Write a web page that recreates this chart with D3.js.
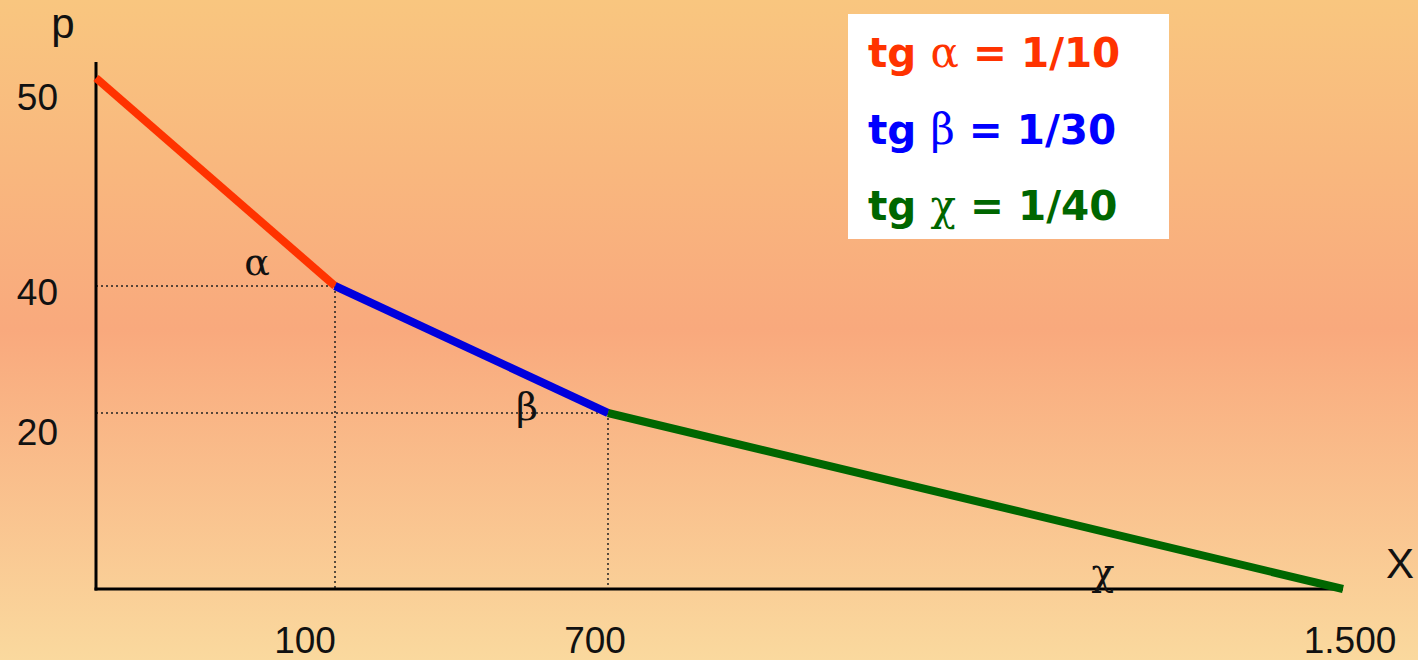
<!DOCTYPE html>
<html>
<head>
<meta charset="utf-8">
<script src="https://cdn.jsdelivr.net/npm/d3@7"></script>
<style>
  html, body { margin: 0; padding: 0; overflow: hidden; }
  svg { display: block; }
  .tick-label { font-family: "Liberation Sans", Arial, sans-serif; font-size: 37px; fill: #111; }
  .axis-title { font-family: "Liberation Sans", Arial, sans-serif; font-size: 42px; fill: #111; }
  .greek { font-family: "DejaVu Serif", serif; font-size: 38px; fill: #111; }
  .legend-text { font-family: "DejaVu Sans", Verdana, sans-serif; font-weight: bold; font-size: 40.5px; }
  .legend-text .g { font-family: "DejaVu Serif", serif; font-weight: normal; font-size: 42px; }
</style>
</head>
<body>
<svg id="chart" width="1418" height="660"></svg>
<script>
// Demand curve break points (quantity x, price p)
const quantity = [0, 100, 700, 1500];
const price    = [50, 40, 20, 0];

// One segment per pair of break points
const segColors = ['#ff3300', '#0000dd', '#006600'];
const greek     = ['α', 'β', 'χ'];
const slopes    = ['1/10', '1/30', '1/40'];
const legendColors = ['#ff3300', '#0000ff', '#006600'];

// Ticks (axes are not to scale in the original)
const xTicks      = [100, 700, 1500];
const xTickLabels = ['100', '700', '1.500'];
const yTicks      = [50, 40, 20];

const W = 1418, H = 660;
const svg = d3.select('#chart');

// ── Background gradient ─────────────────────────────────────────
const defs = svg.append('defs');
const grad = defs.append('linearGradient')
  .attr('id', 'bg').attr('x1', 0).attr('y1', 0).attr('x2', 0).attr('y2', 1);
grad.append('stop').attr('offset', '0%').attr('stop-color', '#f9c67f');
grad.append('stop').attr('offset', '50%').attr('stop-color', '#f9a97d');
grad.append('stop').attr('offset', '100%').attr('stop-color', '#fad99e');
svg.append('rect').attr('width', W).attr('height', H).attr('fill', 'url(#bg)');

// ── Piecewise scales (break points spaced like the drawing) ─────
const x = d3.scaleLinear().domain(quantity).range([96, 335, 608, 1343]);
const y = d3.scaleLinear().domain([0, 20, 40, 50]).range([589, 413, 286, 78]);

const x0 = x(0), y0 = y(0);

// ── Dotted guides ───────────────────────────────────────────────
const guides = svg.append('g')
  .attr('stroke', '#222')
  .attr('stroke-width', 1.5)
  .attr('stroke-dasharray', '2,3');

const inner = quantity.map((q, i) => ({ q, p: price[i] })).filter(d => d.q > 0 && d.p > 0);
guides.selectAll('.h').data(inner).join('line')
  .attr('x1', x0).attr('x2', d => x(d.q))
  .attr('y1', d => y(d.p)).attr('y2', d => y(d.p));
guides.selectAll('.v').data(inner).join('line')
  .attr('x1', d => x(d.q)).attr('x2', d => x(d.q))
  .attr('y1', d => y(d.p)).attr('y2', y0);

// ── Axes ────────────────────────────────────────────────────────
svg.append('line')
  .attr('x1', x0).attr('x2', x0)
  .attr('y1', y(50) - 16).attr('y2', y0 + 1.5)
  .attr('stroke', '#000').attr('stroke-width', 3);
svg.append('line')
  .attr('x1', x0 - 1.5).attr('x2', x(1500))
  .attr('y1', y0).attr('y2', y0)
  .attr('stroke', '#000').attr('stroke-width', 3);

svg.selectAll('.ytick').data(yTicks).join('text')
  .attr('class', 'tick-label')
  .attr('x', 58)
  .attr('y', d => y(d) + (d === 40 ? 19 : 32))
  .attr('text-anchor', 'end')
  .text(d => d);

svg.selectAll('.xtick').data(xTicks).join('text')
  .attr('class', 'tick-label')
  .attr('x', (d, i) => x(d) + [-30, -13, 7][i])
  .attr('y', 653)
  .attr('text-anchor', 'middle')
  .text((d, i) => xTickLabels[i]);

svg.append('text').attr('class', 'axis-title')
  .attr('x', 63).attr('y', 38).attr('text-anchor', 'middle').text('p');
svg.append('text').attr('class', 'axis-title')
  .attr('x', 1400).attr('y', 578).attr('text-anchor', 'middle').text('X');

// ── Demand segments ─────────────────────────────────────────────
const segments = d3.range(quantity.length - 1).map(i => ({
  x1: quantity[i], y1: price[i], x2: quantity[i + 1], y2: price[i + 1], color: segColors[i]
}));

svg.append('g').selectAll('line').data(segments).join('line')
  .attr('x1', d => x(d.x1)).attr('y1', d => y(d.y1))
  .attr('x2', d => x(d.x2)).attr('y2', d => y(d.y2))
  .attr('stroke', d => d.color)
  .attr('stroke-width', 8);

// Angle labels, just left of each segment's lower end
const greekDx = [-78, -81, -240];
const greekDy = [-11, 7, -4];
svg.selectAll('.greek').data(segments).join('text')
  .attr('class', 'greek')
  .attr('x', (d, i) => x(d.x2) + greekDx[i])
  .attr('y', (d, i) => y(d.y2) + greekDy[i])
  .attr('text-anchor', 'middle')
  .text((d, i) => greek[i]);

// ── Legend box ──────────────────────────────────────────────────
svg.append('rect')
  .attr('x', 848).attr('y', 14).attr('width', 321).attr('height', 225)
  .attr('fill', '#fff');

const legend = svg.selectAll('.legend-text').data(slopes).join('text')
  .attr('class', 'legend-text')
  .attr('x', 868)
  .attr('y', (d, i) => 67 + i * 76.5)
  .attr('fill', (d, i) => legendColors[i]);
legend.append('tspan').text('tg ');
legend.append('tspan').attr('class', 'g').text((d, i) => greek[i]);
legend.append('tspan').text(d => ' = ' + d);
</script>
</body>
</html>
